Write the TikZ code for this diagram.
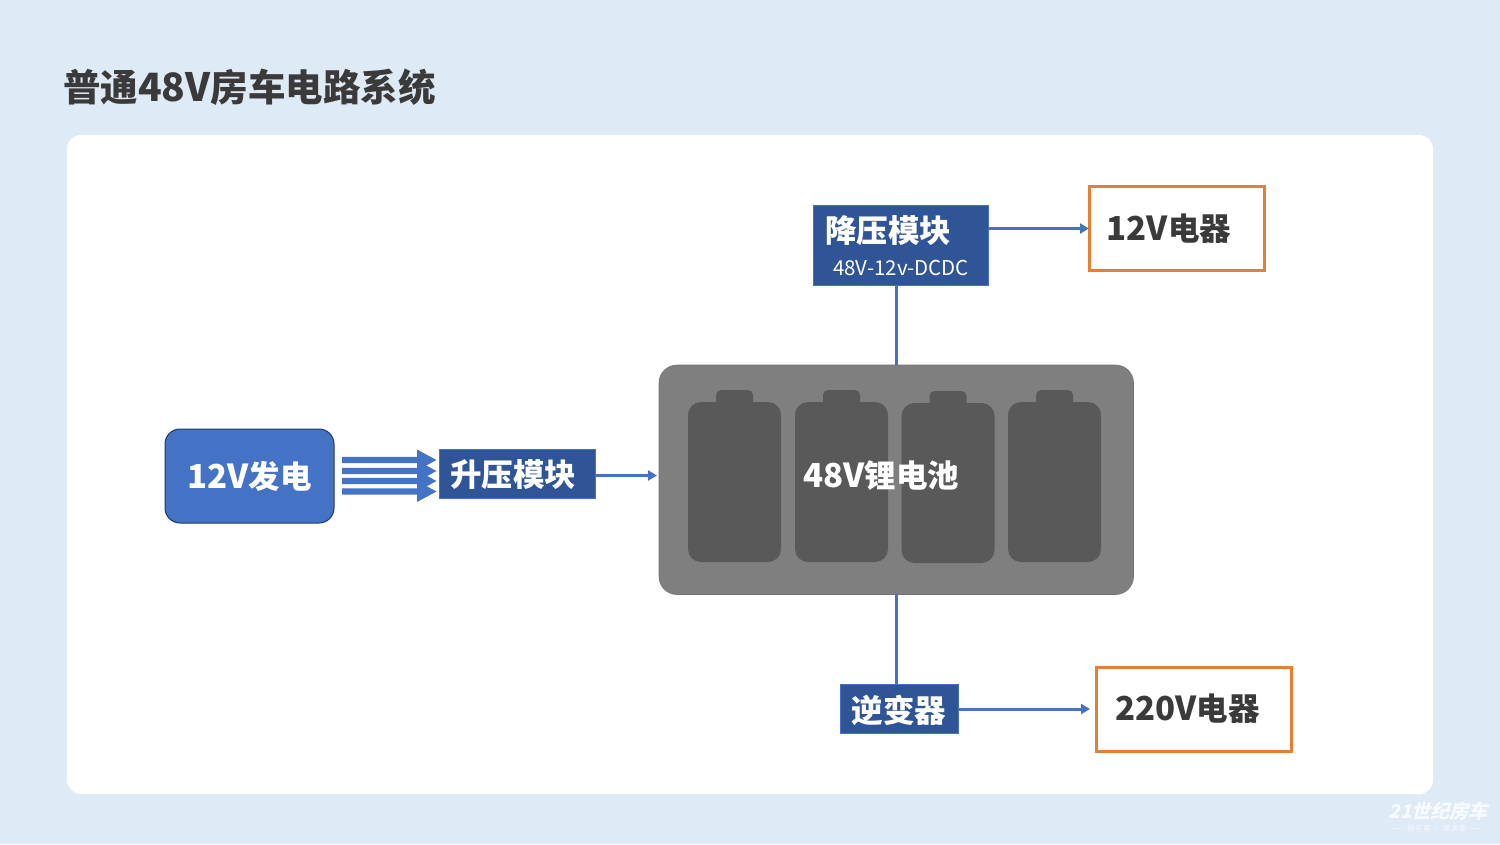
\documentclass[tikz,border=0pt]{standalone}
\usepackage{fontspec}
\setmainfont{Noto Sans CJK SC}
\usetikzlibrary{arrows.meta}
\definecolor{bgblue}{HTML}{DEEAF6}
\definecolor{midblue}{HTML}{4472C4}
\definecolor{darkblue}{HTML}{2F5597}
\definecolor{edgeblue}{HTML}{1F3864}
\definecolor{orangeb}{HTML}{E97D30}
\definecolor{ink}{HTML}{3A3A3A}
\definecolor{packgrey}{HTML}{7F7F7F}
\definecolor{cellgrey}{HTML}{595959}
\newcommand{\lat}[1]{{\fontsize{33}{34}\selectfont #1}}
\tikzset{
 x=1pt,y=-1pt,
 every node/.style={inner sep=0pt,outer sep=0pt},
 bluebox/.style={fill=darkblue,draw=midblue,line width=.8pt,anchor=north west},
 loadbox/.style={draw=orangeb,line width=3pt,fill=white,anchor=north west},
 bigtxt/.style={font=\fontsize{31.5}{34}\bfseries\selectfont,text=white},
 loadtxt/.style={font=\fontsize{31.5}{34}\bfseries\selectfont,text=ink},
 link/.style={draw=midblue,line width=3pt},
 linkarrow/.style={link,-{Triangle[length=9pt,width=10pt]}},
 stripe/.style={fill=midblue},
 cell/.style={fill=cellgrey,draw=none},
}
\begin{document}
\begin{tikzpicture}
\useasboundingbox (0,0) rectangle (1500,844);
\fill[bgblue] (0,0) rectangle (1500,844);
\fill[white,rounded corners=14pt] (67,135) rectangle (1433,794);
\node[anchor=west,text=ink,font=\fontsize{37.5}{40}\bfseries\selectfont] (title) at (63,87) {普通{\fontsize{39}{40}\selectfont 48V}房车电路系统};
% battery pack
\node[fill=packgrey,draw=gray!90!black,line width=.6pt,rounded corners=18pt,minimum width=474.5pt,minimum height=229.5pt,anchor=north west] (pack) at (659,365) {};
\foreach \n/\xx/\yy in {a/688/402,b/795/402,c/901.5/403,d/1008/402}{
 \fill[cell,rounded corners=13pt] (\xx,\yy) rectangle ++(93,160);
 \fill[cell,rounded corners=5pt] (\xx+28,\yy-12) rectangle ++(37,20);
}
\node[bigtxt] (packlabel) at (881.5,476) {\lat{48V}锂电池};
% source
\node[fill=midblue,draw=edgeblue,line width=1pt,rounded corners=15pt,minimum width=169pt,minimum height=94pt,anchor=north west] (gen) at (165,429) {};
\node[bigtxt] (genlabel) at (249.5,476) {\lat{12V}发电};
% boost
\node[bluebox,minimum width=156pt,minimum height=49pt] (boost) at (439.5,449.5) {};
\node[bigtxt] (boostlabel) at (513,475) {升压模块};
% stripes
\foreach \yy in {460,471,481,491.5}{
 \fill[stripe] (342,\yy-3.2) -- (417,\yy-3.2) -- (417,\yy-10.5) -- (436.5,\yy) -- (417,\yy+10.5) -- (417,\yy+3.2) -- (342,\yy+3.2) -- cycle;
}
% buck
\node[bluebox,minimum width=175pt,minimum height=79.5pt] (buck) at (813.5,205.5) {};
\node[bigtxt] (bucklabel) at (888,231) {降压模块};
\node[text=white,font=\fontsize{20.5}{22}\selectfont] (bucksub) at (901,268) {48V-12v-DCDC};
% inverter
\node[bluebox,minimum width=118pt,minimum height=49pt] (inv) at (840.5,684.5) {};
\node[bigtxt] (invlabel) at (899,710) {逆变器};
% loads
\node[loadbox,minimum width=175pt,minimum height=84pt] (l12) at (1089.5,186.5) {};
\node[loadtxt] (l12label) at (1169,229) {\lat{12V}电器};
\node[loadbox,minimum width=195pt,minimum height=84pt] (l220) at (1096.5,667.5) {};
\node[loadtxt] (l220label) at (1187.5,709) {\lat{220V}电器};
% connectors
\coordinate (packtop) at (896,365);
\coordinate (packbot) at (896,594);
\coordinate (bucktap) at (896,285);
\coordinate (invtap) at (896,684);
\coordinate (boostout) at (595.5,475.5);
\coordinate (packin) at (657,475.5);
\coordinate (buckout) at (988.5,228.5);
\coordinate (l12in) at (1089,228.5);
\coordinate (invout) at (958.5,709);
\coordinate (l220in) at (1090,709);
\draw[link] (packtop) -- (bucktap);
\draw[link] (packbot) -- (invtap);
\draw[linkarrow] (boostout) -- (packin);
\draw[linkarrow] (buckout) -- (l12in);
\draw[linkarrow] (invout) -- (l220in);
% watermark
\node[text=white,opacity=.8,font=\fontsize{19}{20}\bfseries\selectfont\addfontfeature{FakeSlant=0.25}] (wm) at (1438,811) {21世纪房车};
\node[text=white,opacity=.7,font=\fontsize{8}{9}\selectfont] (wmsub) at (1437,828) {—— 我在变 · 家未变 ——};
\end{tikzpicture}
\end{document}
